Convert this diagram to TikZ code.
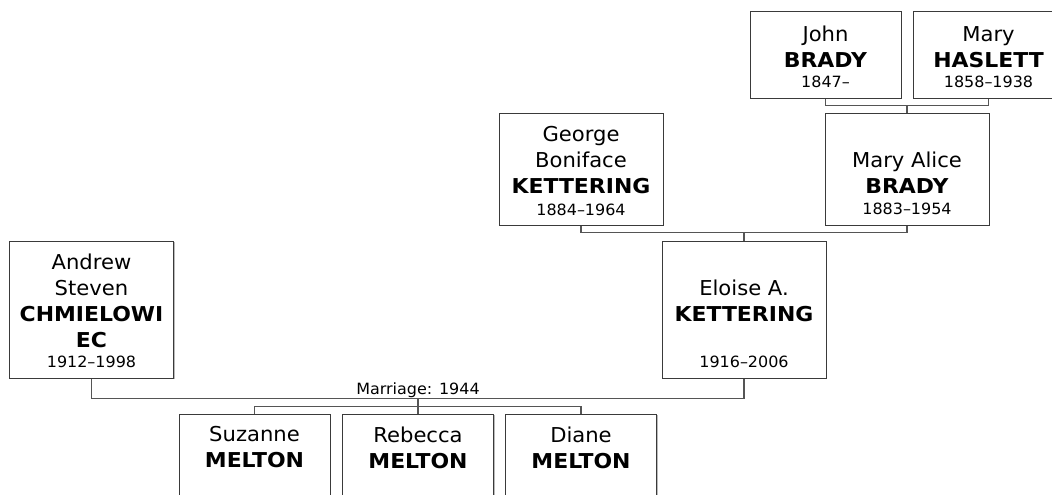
\documentclass[tikz,border=0pt]{standalone}
\usepackage{fontspec}
\setmainfont{DejaVu Sans}[FakeStretch=1.03, BoldFeatures={FakeStretch=1.07}]
\usepackage{tikz}
\usetikzlibrary{shadows}
\definecolor{boxline}{HTML}{3A3A3A}
\definecolor{linkline}{HTML}{555555}
\tikzset{
  person/.style={rectangle, draw=boxline, line width=1pt, fill=white, inner sep=0pt,
    drop shadow={shadow xshift=1pt, shadow yshift=-1pt, fill=black!45, opacity=.6}},
  elder/.style={person, minimum width=151pt, minimum height=86pt},
  parent/.style={person, minimum width=164pt, minimum height=112pt},
  couple/.style={person, minimum width=164pt, minimum height=137pt},
  child/.style={person, minimum width=151pt, minimum height=111pt},
  nm/.style={align=center, inner sep=0pt, font=\fontsize{20.5}{26}\selectfont},
  yrs/.style={anchor=base, inner sep=0pt, font=\fontsize{15.5}{19}\selectfont},
  link/.style={draw=linkline, line width=1.3pt},
}

\begin{document}
\begin{tikzpicture}[x=1pt, y=-1pt]
\useasboundingbox (0,0) rectangle (1052,495);
\clip (0,0) rectangle (1052,495);

% grandparents
\node[elder] (john) at (825.5,55) {};
\node[elder] (haslett) at (988.5,55) {};
\node[parent] (george) at (581,169) {};
\node[parent] (maryalice) at (907,169) {};

% couple
\node[couple] (andrew) at (91.5,309.5) {};
\node[couple] (eloise) at (744,309.5) {};

% children
\node[child] (suzanne) at (254.5,469.5) {};
\node[child] (rebecca) at (418,469.5) {};
\node[child] (diane) at (581,469.5) {};

% texts
\node[nm] at ([yshift=8pt]john) {John\\\textbf{BRADY}};
\node[yrs] at ([yshift=11pt]john.south) {1847–};
\node[nm] at ([yshift=8pt]haslett) {Mary\\\textbf{HASLETT}};
\node[yrs] at ([yshift=11pt]haslett.south) {1858–1938};
\node[nm] at ([yshift=9pt]george) {George\\Boniface\\\textbf{KETTERING}};
\node[yrs] at ([yshift=10pt]george.south) {1884–1964};
\node[nm] at ([yshift=-4pt]maryalice) {Mary Alice\\\textbf{BRADY}};
\node[yrs] at ([yshift=11pt]maryalice.south) {1883–1954};
\node[nm] at ([yshift=9pt]andrew) {Andrew\\Steven\\\textbf{CHMIELOWI}\\\textbf{EC}};
\node[yrs] at ([yshift=11pt]andrew.south) {1912–1998};
\node[nm] at ([yshift=9pt]eloise) {Eloise A.\\\textbf{KETTERING}};
\node[yrs] at ([yshift=11pt]eloise.south) {1916–2006};
\node[nm] at ([yshift=-34pt]suzanne.north) {Suzanne\\\textbf{MELTON}};
\node[nm] at ([yshift=-34pt]rebecca.north) {Rebecca\\\textbf{MELTON}};
\node[nm] at ([yshift=-34pt]diane.north) {Diane\\\textbf{MELTON}};

% connectors
\draw[link] (john.south) -- ++(0,7) -| (haslett.south);
\draw[link] (maryalice.north) -- ++(0,-8);
\draw[link] (george.south) -- ++(0,7) -| (maryalice.south);
\draw[link] (eloise.north) -- ++(0,-9);
\draw[link] (andrew.south) -- ++(0,20) -| (eloise.south);
\draw[link] (rebecca.north) -- ++(0,-16);
\draw[link] (suzanne.north) -- ++(0,-7) -| (diane.north);
\node[yrs] (wed) at ([yshift=19pt]rebecca.north) {Marriage: 1944};
\end{tikzpicture}
\end{document}
